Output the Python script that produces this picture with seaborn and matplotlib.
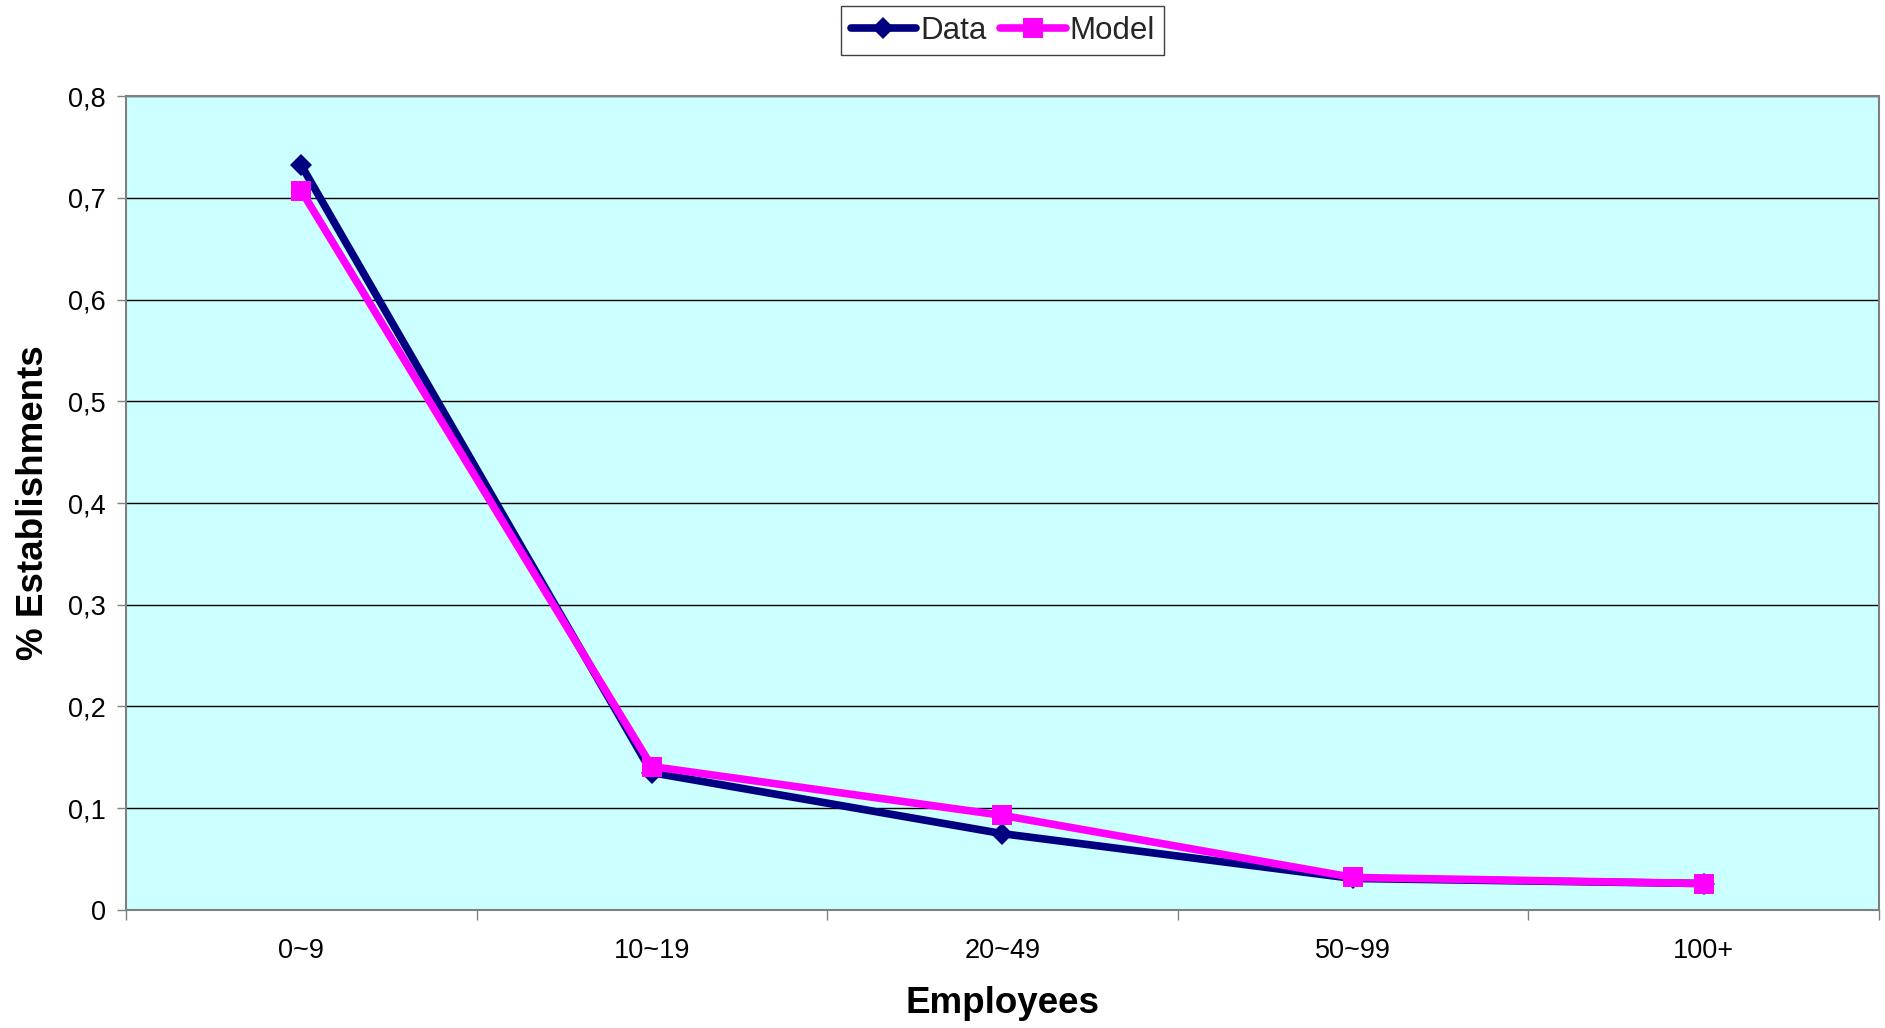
import numpy as np
import pandas as pd
import matplotlib
matplotlib.use('Agg')
import matplotlib.pyplot as plt
import seaborn as sns
from matplotlib.ticker import FixedLocator, FixedFormatter, NullFormatter


employees = ['0~9', '10~19', '20~49', '50~99', '100+']
data_share = [0.732, 0.135, 0.075, 0.031, 0.026]
model_share = [0.707, 0.141, 0.093, 0.032, 0.026]
series_names = ['Data', 'Model']
y_ticks = [0, 0.1, 0.2, 0.3, 0.4, 0.5, 0.6, 0.7, 0.8]
y_tick_labels = ['0', '0,1', '0,2', '0,3', '0,4', '0,5', '0,6', '0,7', '0,8']

df = pd.DataFrame({
    'employees': employees * 2,
    'share': data_share + model_share,
    'series': [series_names[0]] * len(employees) + [series_names[1]] * len(employees),
})

sns.set_theme(style='white')
plt.rcParams['font.family'] = ['Liberation Sans', 'DejaVu Sans']

fig = plt.figure(figsize=(18.85, 10.28), dpi=100)
ax = fig.add_axes([0.0668, 0.1148, 0.9300, 0.7918])
ax.set_facecolor('#CCFFFF')

sns.lineplot(data=df, x='employees', y='share', hue='series', style='series',
             palette={'Data': '#000080', 'Model': '#FF00FF'},
             markers={'Data': 'D', 'Model': 's'}, dashes=False, sort=False,
             linewidth=5.5, markeredgewidth=0, legend=False, ax=ax)

# diamond a bit smaller than the square
ax.lines[0].set_markersize(11)
ax.lines[1].set_markersize(15)
for ln in ax.lines[:2]:
    ln.set_solid_capstyle('round')

ax.set_xlim(-0.5, len(employees) - 0.5)
ax.set_ylim(0, 0.8)

# category boundaries get the tick marks, centres get the labels
ax.xaxis.set_major_locator(FixedLocator(np.arange(-0.5, len(employees), 1)))
ax.xaxis.set_major_formatter(NullFormatter())
ax.xaxis.set_minor_locator(FixedLocator(range(len(employees))))
ax.xaxis.set_minor_formatter(FixedFormatter(employees))
ax.tick_params(axis='x', which='major', bottom=True, length=7, width=1,
               color='#808080', direction='out')
ax.tick_params(axis='x', which='minor', bottom=True, length=0, pad=20,
               labelsize=19.5, labelcolor='black')

ax.set_yticks(y_ticks)
ax.set_yticklabels(y_tick_labels)
ax.tick_params(axis='y', left=True, length=6.5, width=1, color='#808080',
               direction='out', pad=8, labelsize=19.5, labelcolor='black')

ax.set_axisbelow(True)
ax.yaxis.grid(True, color='black', linewidth=1)
for s in ax.spines.values():
    s.set_visible(True)
    s.set_color('#808080')
    s.set_linewidth(1.5)

ax.set_xlabel('Employees', fontsize=26.5, fontweight='bold', labelpad=16, color='black')
ax.set_ylabel('% Establishments', fontsize=26.5, fontweight='bold', labelpad=12, color='black')

leg = fig.legend(handles=ax.lines[:2], labels=series_names, loc='upper center',
                 bbox_to_anchor=(0.532, 0.994), ncol=2, frameon=True, fancybox=False,
                 edgecolor='#404040', framealpha=1, fontsize=22.5, handlelength=2.1,
                 handletextpad=0.12, columnspacing=0.45, borderpad=0.3, borderaxespad=0)
leg.get_frame().set_linewidth(1)

fig.savefig('out.png', dpi=100)
